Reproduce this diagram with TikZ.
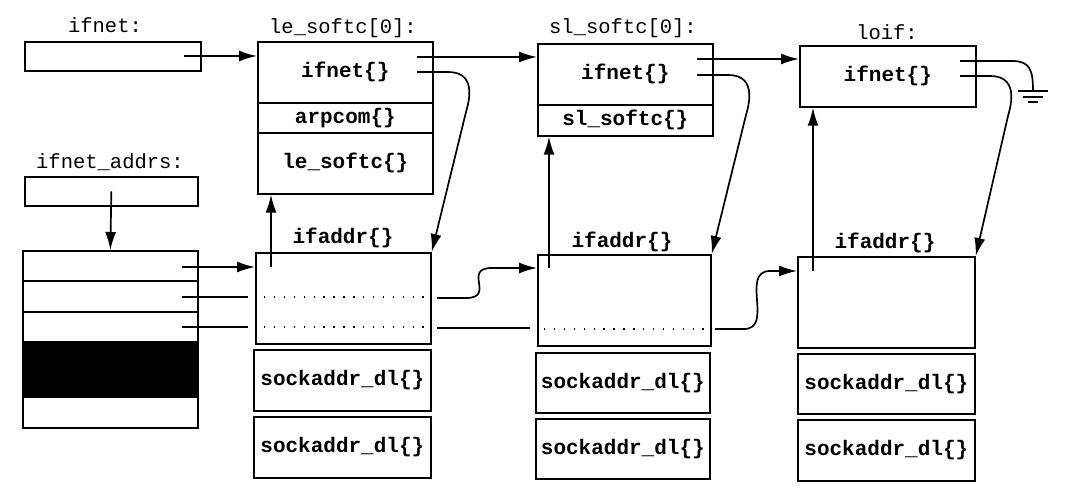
\documentclass[tikz,border=0pt]{standalone}
\usepackage{fontspec}
\setmonofont{Liberation Mono}
\usetikzlibrary{arrows.meta}
\begin{document}
\begin{tikzpicture}[x=1pt,y=-1pt,
    box/.style={draw,line width=1.7pt,inner sep=0pt,anchor=north west,
      font=\ttfamily\bfseries\fontsize{21}{23}\selectfont},
    hd/.style={font=\ttfamily\fontsize{20.5}{23}\selectfont},
    bhd/.style={font=\ttfamily\bfseries\fontsize{21}{23}\selectfont},
    ln/.style={line width=1.7pt},
    arr/.style={line width=1.7pt,-{Latex[length=18pt,width=11pt]}},
    dots/.style={line width=1.4pt,dash pattern=on 1.4pt off 8.5pt}]
    \useasboundingbox (0,0) rectangle (1080,494);
    \node[hd] (t_ifnet) at (105,25) {ifnet:};
    \node[hd] (t_le) at (343,28) {le\_softc[0]:};
    \node[hd] (t_sl) at (623,28) {sl\_softc[0]:};
    \node[hd] (t_lo) at (887,32) {loif:};
    \node[hd] (t_addrs) at (110,162) {ifnet\_addrs:};
    \node[box,minimum width=176pt,minimum height=29pt] (ifnetvar) at (24,41) {};
    \node[box,minimum width=173pt,minimum height=29pt] (addrsvar) at (24,176) {};
    \node[box,minimum width=175pt,minimum height=30pt] (row1) at (22,250) {};
    \node[box,minimum width=175pt,minimum height=31pt] (row2) at (22,280) {};
    \node[box,minimum width=175pt,minimum height=30pt] (row3) at (22,311) {};
    \node[box,fill=black,minimum width=175pt,minimum height=55pt] (row4) at (22,341) {};
    \node[box,minimum width=175pt,minimum height=31pt] (row5) at (22,396) {};
    \node[box,minimum width=175pt,minimum height=61pt] (le_if) at (257,41) {ifnet\{\}};
    \node[box,minimum width=175pt,minimum height=30pt] (le_arp) at (257,102) {arpcom\{\}};
    \node[box,minimum width=175pt,minimum height=61pt] (le_sc) at (257,132) {le\_softc\{\}};
    \node[box,minimum width=175pt,minimum height=61pt] (sl_if) at (537,43) {ifnet\{\}};
    \node[box,minimum width=175pt,minimum height=31pt] (sl_sc) at (537,104) {sl\_softc\{\}};
    \node[box,minimum width=176pt,minimum height=61pt] (lo_if) at (799,45) {ifnet\{\}};
    \node[bhd] (t_la) at (343,238) {ifaddr\{\}};
    \node[bhd] (t_sa) at (622,242) {ifaddr\{\}};
    \node[bhd] (t_oa) at (885,243) {ifaddr\{\}};
    \node[box,minimum width=175pt,minimum height=91pt] (le_addr) at (255,252) {};
    \node[box,minimum width=177pt,minimum height=61pt] (le_dl1) at (253,349) {sockaddr\_dl\{\}};
    \node[box,minimum width=177pt,minimum height=61pt] (le_dl2) at (253,416) {sockaddr\_dl\{\}};
    \node[box,minimum width=173pt,minimum height=91pt] (sl_addr) at (537,254) {};
    \node[box,minimum width=174pt,minimum height=60pt] (sl_dl1) at (535,352) {sockaddr\_dl\{\}};
    \node[box,minimum width=174pt,minimum height=60pt] (sl_dl2) at (535,418) {sockaddr\_dl\{\}};
    \node[box,minimum width=177pt,minimum height=91pt] (lo_addr) at (797,256) {};
    \node[box,minimum width=177pt,minimum height=60pt] (lo_dl1) at (797,353) {sockaddr\_dl\{\}};
    \node[box,minimum width=177pt,minimum height=61pt] (lo_dl2) at (797,419) {sockaddr\_dl\{\}};
    \coordinate (p0) at (184,56);
    \coordinate (le_n) at (417,57);
    \coordinate (le_a) at (417,72);
    \coordinate (sl_n) at (697,59);
    \coordinate (sl_a) at (697,75);
    \coordinate (lo_n) at (960,61);
    \coordinate (lo_a) at (960,76);
    \coordinate (gnd) at (1033,91);
    \coordinate (r1) at (182,267);
    \coordinate (r2) at (182,297);
    \coordinate (r3) at (182,327);
    \coordinate (le_up) at (271,267);
    \coordinate (sl_up) at (549,268);
    \coordinate (lo_up) at (813,271);
    \draw[arr] (p0) -- (p0 -| le_if.west);
    \draw[arr] (le_n) -- (le_n -| sl_if.west);
    \draw[arr] (sl_n) -- (sl_n -| lo_if.west);
    \draw[arr] (le_a) -- (448,72) .. controls (472,72) and (472,92) .. (466,112) -- (le_addr.north east);
    \draw[arr] (sl_a) -- (728,75) .. controls (752,75) and (752,95) .. (746,115) -- (sl_addr.north east);
    \draw[arr] (lo_a) -- (990,76) .. controls (1014,76) and (1014,96) .. (1008,116) -- (lo_addr.north east);
    \draw[ln] (lo_n) -- (1012,61) .. controls (1030,61) and (1033,70) .. (gnd);
    \draw[ln] (1018,91) -- (1048,91) (1023,97) -- (1043,97) (1028,102) -- (1038,102);
    \draw[arr] (addrsvar.center) -- (row1.north);
    \draw[arr] (r1) -- (r1 -| le_addr.west);
    \draw[ln] (r2) -- (248,297);
    \draw[ln] (r3) -- (248,327);
    \draw[dots] (264,297) -- (424,297);
    \draw[dots] (264,327) -- (424,327);
    \draw[arr] (437,298) -- (466,298) .. controls (496,298) and (462,268) .. (492,268) -- (sl_addr.west |- 0,268);
    \draw[ln] (437,328) -- (530,328);
    \draw[dots] (544,329) -- (704,329);
    \draw[arr] (715,329) -- (744,329) .. controls (774,329) and (740,271) .. (770,271) -- (lo_addr.west |- 0,271);
    \draw[arr] (le_up) -- (le_up |- le_sc.south);
    \draw[arr] (sl_up) -- (sl_up |- sl_sc.south);
    \draw[arr] (lo_up) -- (lo_up |- lo_if.south);
\end{tikzpicture}
\end{document}
